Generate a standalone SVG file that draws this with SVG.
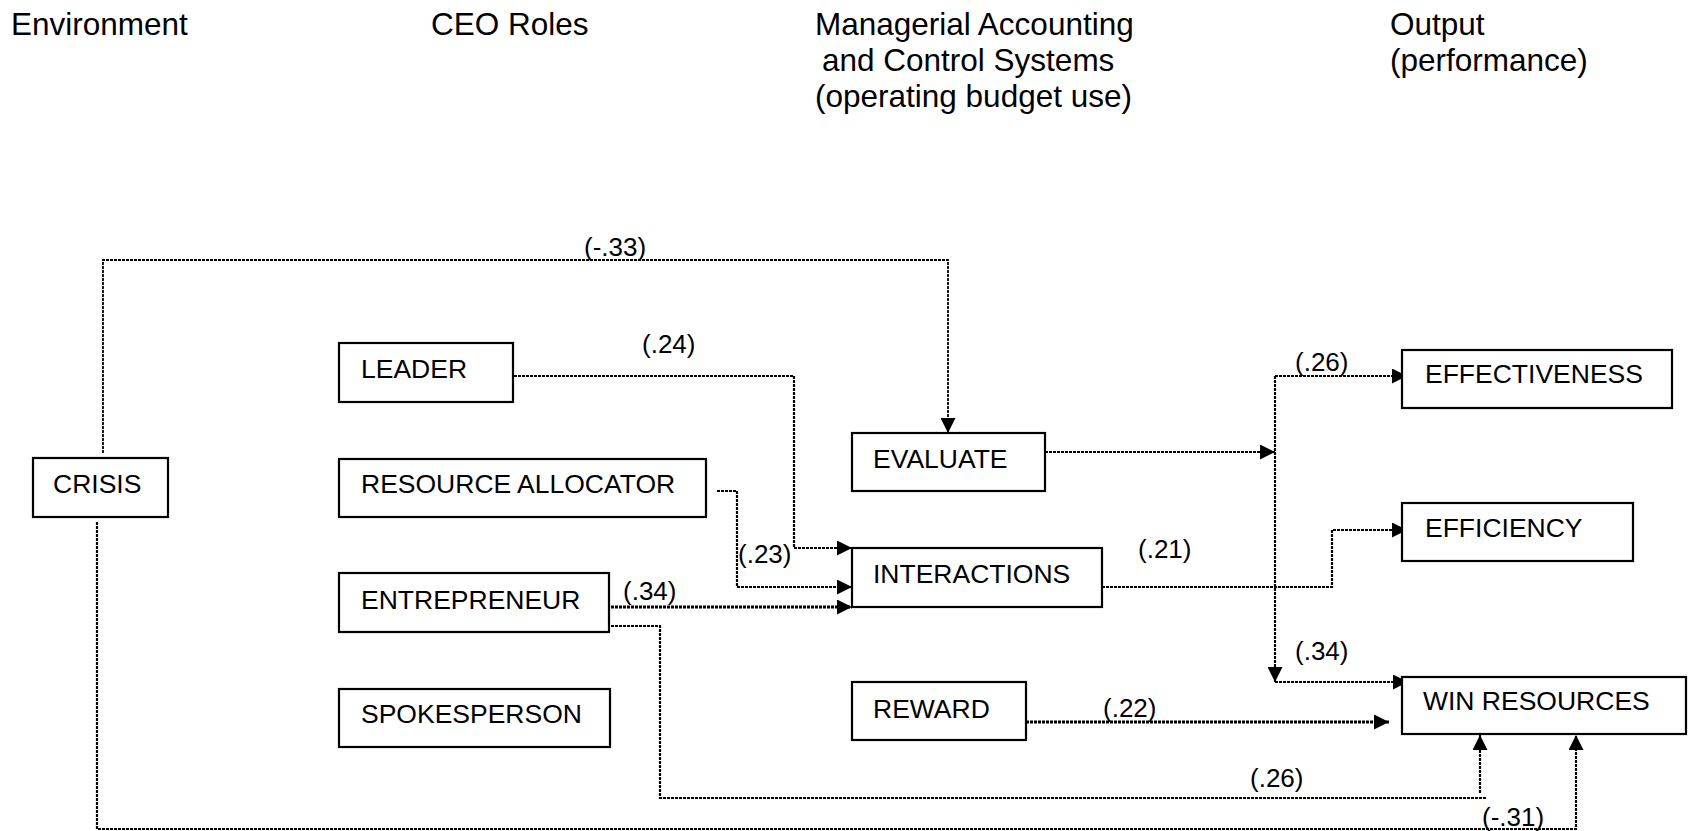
<svg xmlns="http://www.w3.org/2000/svg" width="1690" height="831" viewBox="0 0 1690 831">
<style>
.hdr{font-family:"Liberation Sans",Arial,sans-serif;font-size:31.5px;fill:#000}
.lbl{font-family:"Liberation Sans",Arial,sans-serif;font-size:26px;fill:#000}
.box rect{fill:#fff;stroke:#000;stroke-width:2.2}
.box text{font-family:"Liberation Sans",Arial,sans-serif;font-size:26.5px;fill:#000}
.con{fill:none;stroke:#000;stroke-width:2.2;stroke-dasharray:3 1}
.thin{stroke-width:1.8}
.thick{stroke-width:3}
</style>
<defs>
<marker id="ah" viewBox="0 0 15 15" refX="15" refY="7.5" markerWidth="15" markerHeight="15" markerUnits="userSpaceOnUse" orient="auto">
<path d="M0,0 L15,7.5 L0,15 z" fill="#000"/>
</marker>
</defs>

<g id="headers">
<text class="hdr" x="11" y="35">Environment</text>
<text class="hdr" x="431" y="35">CEO Roles</text>
<text class="hdr" x="815" y="35">Managerial Accounting</text>
<text class="hdr" x="822" y="71">and Control Systems</text>
<text class="hdr" x="815" y="107">(operating budget use)</text>
<text class="hdr" x="1390" y="35">Output</text>
<text class="hdr" x="1390" y="71">(performance)</text>
</g>

<g id="connectors">
<path class="con thin" d="M103,453 V260 H948 V433" marker-end="url(#ah)"/>
<path class="con" d="M506,376 H794 V548 H852" marker-end="url(#ah)"/>
<path class="con" d="M717,491 H737 V587 H852" marker-end="url(#ah)"/>
<path class="con thick" d="M603,607 H852" marker-end="url(#ah)"/>
<path class="con" d="M1045,452 H1275" marker-end="url(#ah)"/>
<path class="con" d="M1275,376 V682" marker-end="url(#ah)"/>
<path class="con" d="M1275,376 H1407" marker-end="url(#ah)"/>
<path class="con" d="M1275,682 H1408" marker-end="url(#ah)"/>
<path class="con" d="M1102,587 H1332 V530 H1407" marker-end="url(#ah)"/>
<path class="con thick" d="M1026,722 H1389" marker-end="url(#ah)"/>
<path class="con" d="M603,626 H660 V798 H1486"/>
<path class="con" d="M1480,793 V735" marker-end="url(#ah)"/>
<path class="con" d="M97,522 V829 H1576 V735" marker-end="url(#ah)"/>
</g>

<g id="labels">
<text class="lbl" x="584" y="256">(-.33)</text>
<text class="lbl" x="642" y="353">(.24)</text>
<text class="lbl" x="738" y="563">(.23)</text>
<text class="lbl" x="623" y="600">(.34)</text>
<text class="lbl" x="1138" y="558">(.21)</text>
<text class="lbl" x="1295" y="371">(.26)</text>
<text class="lbl" x="1295" y="660">(.34)</text>
<text class="lbl" x="1103" y="717">(.22)</text>
<text class="lbl" x="1250" y="787">(.26)</text>
<text class="lbl" x="1482" y="826">(-.31)</text>
</g>

<g id="crisis" class="box"><rect x="33" y="458" width="135" height="59"/><text x="53" y="493">CRISIS</text></g>
<g id="leader" class="box"><rect x="339" y="343" width="174" height="59"/><text x="361" y="378">LEADER</text></g>
<g id="resource-allocator" class="box"><rect x="339" y="459" width="367" height="58"/><text x="361" y="493">RESOURCE ALLOCATOR</text></g>
<g id="entrepreneur" class="box"><rect x="339" y="573" width="270" height="59"/><text x="361" y="609">ENTREPRENEUR</text></g>
<g id="spokesperson" class="box"><rect x="339" y="689" width="271" height="58"/><text x="361" y="723">SPOKESPERSON</text></g>
<g id="evaluate" class="box"><rect x="852" y="433" width="193" height="58"/><text x="873" y="468">EVALUATE</text></g>
<g id="interactions" class="box"><rect x="852" y="548" width="250" height="59"/><text x="873" y="583">INTERACTIONS</text></g>
<g id="reward" class="box"><rect x="852" y="682" width="174" height="58"/><text x="873" y="718">REWARD</text></g>
<g id="effectiveness" class="box"><rect x="1402" y="350" width="270" height="58"/><text x="1425" y="383">EFFECTIVENESS</text></g>
<g id="efficiency" class="box"><rect x="1402" y="503" width="231" height="58"/><text x="1425" y="537">EFFICIENCY</text></g>
<g id="win-resources" class="box"><rect x="1402" y="677" width="284" height="57"/><text x="1423" y="710">WIN RESOURCES</text></g>
</svg>
